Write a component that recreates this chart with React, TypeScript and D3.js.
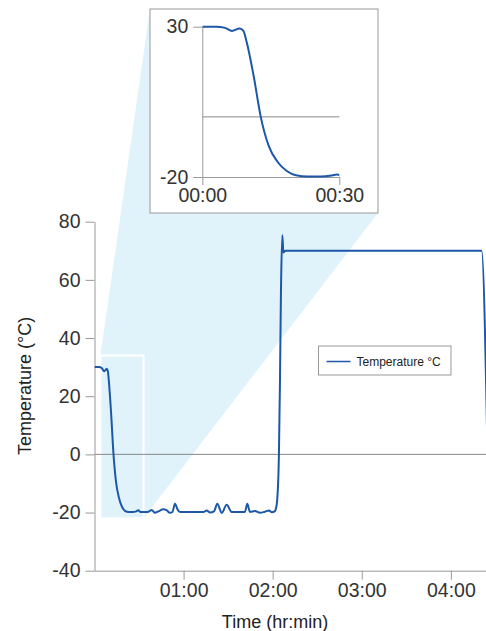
import React, { useEffect, useRef } from 'react';
import * as d3 from 'd3';

// time in minutes since start, temperature in °C
const timeMin = [
  0, 3, 5, 6.5, 8.2, 9.0, 9.7, 11.2, 12.8, 14.5, 16.5, 18.5, 20.5, 23, 26, 28,
  29.5, 31, 34, 36.5, 38.5, 40.7, 43, 46.3, 48.5, 50.8, 52.5, 54.2, 56, 57.6,
  73.3, 75.6, 77.8, 80.5, 82.7, 85.7, 89.0, 92.4, 101.3, 102.9, 104.7, 108.1,
  111.4, 114.8, 117.7, 119.3, 121.5, 122.2, 123.0, 124.2, 124.9, 125.6, 126.5,
  127.2, 128.5, 260.7, 264.5,
];
const tempC = [
  30.0, 30.0, 29.6, 28.6, 29.4, 28.6, 25, 14, 0, -9.5, -15, -18, -19.4, -19.8,
  -19.8, -19.6, -19.2, -19.8, -19.8, -19.7, -19.1, -20.1, -19.6, -18.9, -19.2,
  -20.1, -19.8, -17.0, -19.0, -19.8, -19.8, -19.3, -20.0, -19.6, -17.0, -20.1,
  -17.3, -19.8, -19.8, -17.0, -19.8, -19.5, -20.1, -19.7, -19.3, -19.9, -19.5,
  -18.6, -16, 0, 25, 57, 75.3, 69.4, 70, 70, 5,
];

const yTicks = [-40, -20, 0, 20, 40, 60, 80];
const xTicks = [60, 120, 180, 240];
const xTickLabels = ['01:00', '02:00', '03:00', '04:00'];
const insetYTicks = [-20, 30];
const insetXTicks = [0, 30];
const insetXTickLabels = ['00:00', '00:30'];

// region of the main chart shown in the inset (minutes / °C, with a little padding)
const zoomTime = [4, 33];
const zoomTemp = [-22, 34];

const seriesName = 'Temperature °C';

const W = 486;
const H = 631;
const FONT = '"Liberation Sans", Arial, sans-serif';
const LINE = '#1c57a8';
const SHADE = '#e0f2fa';

const App = () => {
  const svgRef = useRef<SVGSVGElement>(null);

  const data = timeMin.map((t, i) => ({ t, v: tempC[i] }));

  const x = d3.scaleLinear().domain([0, 264]).range([94.5, 486.5]);
  const y = d3.scaleLinear().domain([-40, 80]).range([570.7, 221.7]);

  const box = { x0: 150, y0: 9, x1: 378, y1: 213 };
  const ix = d3.scaleLinear().domain([0, 30]).range([202.3, 339.3]);
  const iy = d3.scaleLinear().domain([-20, 30]).range([177, 26.7]);

  const line = d3
    .line<{ t: number; v: number }>()
    .x((d) => x(d.t))
    .y((d) => y(d.v))
    .curve(d3.curveMonotoneX);
  const insetLine = d3
    .line<{ t: number; v: number }>()
    .x((d) => ix(d.t))
    .y((d) => iy(d.v))
    .curve(d3.curveMonotoneX);

  const rx0 = x(zoomTime[0]);
  const rx1 = x(zoomTime[1]);
  const ry0 = y(zoomTemp[1]);
  const ry1 = y(zoomTemp[0]);
  const hull = [
    [rx0, ry1],
    [rx0, ry0],
    [box.x0, box.y0],
    [box.x1, box.y0],
    [box.x1, box.y1],
    [rx1, ry1],
  ]
    .map((p) => p.join(','))
    .join(' ');

  useEffect(() => {
    const svg = d3.select(svgRef.current);
    const plain = (d: any) => String(d); // hyphen minus like the original

    const style = (g: any, size: number) => {
      g.select('.domain').attr('stroke', '#999');
      g.selectAll('.tick line').attr('stroke', '#999');
      g.selectAll('.tick text')
        .attr('fill', '#333')
        .attr('font-size', size)
        .attr('font-family', FONT);
    };

    svg
      .select<SVGGElement>('.y-axis')
      .attr('transform', `translate(${x(0)},0)`)
      .call(
        d3
          .axisLeft(y)
          .tickValues(yTicks)
          .tickFormat(plain)
          .tickSize(9)
          .tickSizeOuter(0)
          .tickPadding(5)
      )
      .call((g) => style(g, 19.5));

    svg
      .select<SVGGElement>('.x-axis')
      .attr('transform', `translate(0,${y(-40)})`)
      .call(
        d3
          .axisBottom(x)
          .tickValues(xTicks)
          .tickFormat((_, i) => xTickLabels[i])
          .tickSize(9)
          .tickSizeOuter(0)
          .tickPadding(3)
      )
      .call((g) => style(g, 19.5));

    svg
      .select<SVGGElement>('.iy-axis')
      .attr('transform', `translate(${ix(0)},0)`)
      .call(
        d3
          .axisLeft(iy)
          .tickValues(insetYTicks)
          .tickFormat(plain)
          .tickSize(9)
          .tickSizeOuter(0)
          .tickPadding(5)
      )
      .call((g) => style(g, 19.5));

    svg
      .select<SVGGElement>('.ix-axis')
      .attr('transform', `translate(0,${iy(-20)})`)
      .call(
        d3
          .axisBottom(ix)
          .tickValues(insetXTicks)
          .tickFormat((_, i) => insetXTickLabels[i])
          .tickSize(8)
          .tickSizeOuter(0)
          .tickPadding(3)
      )
      .call((g) => style(g, 19.5));
  }, []);

  return (
    <svg
      ref={svgRef}
      width={W}
      height={H}
      style={{ position: 'absolute', left: 0, top: 0, background: '#fff' }}
    >
      <defs>
        <clipPath id="plot-clip">
          <rect x={x(0)} y={0} width={x(264) - x(0)} height={y(-40)} />
        </clipPath>
        <clipPath id="inset-clip">
          <rect x={ix(0)} y={box.y0} width={ix(30) - ix(0)} height={box.y1 - box.y0} />
        </clipPath>
      </defs>

      <polygon points={hull} fill={SHADE} />
      <rect
        x={rx0}
        y={ry0}
        width={rx1 - rx0}
        height={ry1 - ry0}
        fill="none"
        stroke="#fff"
        strokeWidth={2}
      />

      <line x1={x(0)} x2={x(264)} y1={y(0)} y2={y(0)} stroke="#888" strokeWidth={1} />
      <g className="y-axis" />
      <g className="x-axis" />

      <path
        d={line(data) ?? ''}
        fill="none"
        stroke={LINE}
        strokeWidth={2}
        clipPath="url(#plot-clip)"
      />

      <text
        transform={`translate(26,386) rotate(-90)`}
        textAnchor="middle"
        dominantBaseline="middle"
        fontFamily={FONT}
        fontSize={18}
        fill="#222"
      >
        Temperature (°C)
      </text>
      <text x={275} y={628} textAnchor="middle" fontFamily={FONT} fontSize={18} fill="#222">
        Time (hr:min)
      </text>

      {/* inset */}
      <rect
        x={box.x0}
        y={box.y0}
        width={box.x1 - box.x0}
        height={box.y1 - box.y0}
        fill="#fff"
        stroke="#999"
        strokeWidth={1}
      />
      <line x1={ix(0)} x2={ix(30)} y1={iy(0)} y2={iy(0)} stroke="#888" strokeWidth={1} />
      <g className="iy-axis" />
      <g className="ix-axis" />
      <path
        d={insetLine(data.filter((d) => d.t <= 40)) ?? ''}
        fill="none"
        stroke={LINE}
        strokeWidth={2}
        clipPath="url(#inset-clip)"
      />

      {/* legend */}
      <rect x={318.5} y={346} width={132.5} height={29} fill="#fff" stroke="#999" strokeWidth={1} />
      <line x1={326.5} x2={350.5} y1={361.5} y2={361.5} stroke={LINE} strokeWidth={1.5} />
      <text x={356.5} y={366} fontFamily={FONT} fontSize={12} fill="#222">
        {seriesName}
      </text>
    </svg>
  );
};

export default App;
